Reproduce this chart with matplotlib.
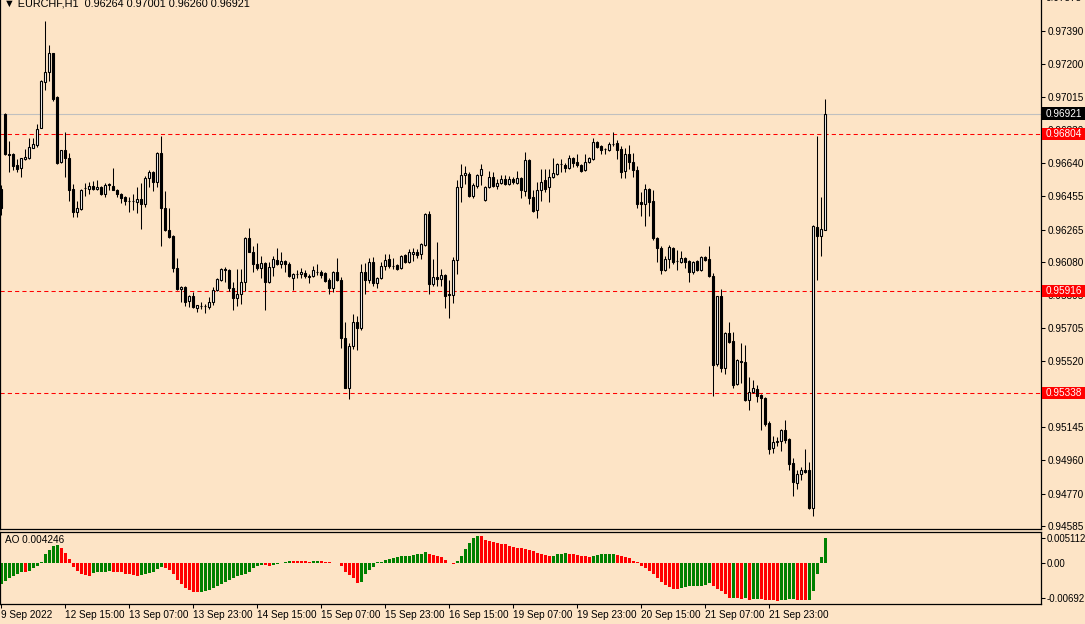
import numpy as np
import matplotlib
matplotlib.use('Agg')
import matplotlib.pyplot as plt
from matplotlib.patches import Rectangle
from matplotlib.transforms import blended_transform_factory

plt.rcParams['font.family'] = ['Liberation Sans', 'DejaVu Sans']
plt.rcParams['font.size'] = 7.2

# EURCHF H1 candles (index 0 = 9 Sep 23:00)
opens = [
    0.96495, 0.96918, 0.96692, 0.96692, 0.96630, 0.96613, 0.96664, 0.96670, 0.96726, 0.96743,
    0.96840, 0.97100, 0.97156, 0.97264, 0.97015, 0.96647, 0.96715, 0.96670, 0.96495, 0.96364,
    0.96381, 0.96498, 0.96495, 0.96511, 0.96495, 0.96506, 0.96466, 0.96517, 0.96511, 0.96489,
    0.96466, 0.96449, 0.96426, 0.96424, 0.96420, 0.96437, 0.96409, 0.96556, 0.96591, 0.96534,
    0.96698, 0.96386, 0.96262, 0.96228, 0.96047, 0.95928, 0.95940, 0.95860, 0.95889, 0.95820,
    0.95832, 0.95834, 0.95826, 0.95855, 0.95923, 0.95979, 0.96041, 0.96036, 0.95934, 0.95877,
    0.95900, 0.95968, 0.96217, 0.96138, 0.96070, 0.96047, 0.96075, 0.95968, 0.96053, 0.96092,
    0.96070, 0.96087, 0.96070, 0.95990, 0.96013, 0.96013, 0.96019, 0.96002, 0.96002, 0.96026,
    0.96024, 0.96019, 0.95979, 0.95934, 0.96024, 0.95979, 0.95651, 0.95368, 0.95606, 0.95741,
    0.95707, 0.96024, 0.95979, 0.96081, 0.95962, 0.95990, 0.96058, 0.96098, 0.96058, 0.96064,
    0.96047, 0.96120, 0.96081, 0.96126, 0.96138, 0.96126, 0.96177, 0.96353, 0.95957, 0.95996,
    0.95985, 0.96007, 0.95900, 0.95894, 0.96092, 0.96506, 0.96574, 0.96579, 0.96455, 0.96511,
    0.96574, 0.96432, 0.96506, 0.96562, 0.96511, 0.96528, 0.96551, 0.96523, 0.96551, 0.96528,
    0.96556, 0.96483, 0.96658, 0.96449, 0.96375, 0.96489, 0.96545, 0.96506, 0.96562, 0.96579,
    0.96636, 0.96630, 0.96613, 0.96670, 0.96647, 0.96630, 0.96602, 0.96647, 0.96664, 0.96760,
    0.96738, 0.96721, 0.96715, 0.96749, 0.96755, 0.96721, 0.96596, 0.96692, 0.96647, 0.96602,
    0.96420, 0.96409, 0.96495, 0.96426, 0.96217, 0.96160, 0.96036, 0.96098, 0.96160, 0.96087,
    0.96081, 0.96104, 0.96087, 0.96024, 0.96087, 0.96036, 0.96109, 0.96098, 0.96002, 0.95504,
    0.95889, 0.95481, 0.95679, 0.95634, 0.95391, 0.95521, 0.95515, 0.95300, 0.95345, 0.95362,
    0.95328, 0.95311, 0.95170, 0.95028, 0.95062, 0.95068, 0.95130, 0.95079, 0.94943, 0.94830,
    0.94881, 0.94904, 0.94904, 0.94689, 0.96279, 0.96228, 0.96264,
]
highs = [
    0.96517, 0.96924, 0.96766, 0.96698, 0.96664, 0.96670, 0.96721, 0.96783, 0.96783, 0.96862,
    0.97110, 0.97445, 0.97309, 0.97266, 0.97018, 0.96717, 0.96817, 0.96698, 0.96523, 0.96426,
    0.96494, 0.96528, 0.96534, 0.96540, 0.96545, 0.96510, 0.96528, 0.96528, 0.96613, 0.96492,
    0.96470, 0.96453, 0.96449, 0.96466, 0.96506, 0.96528, 0.96568, 0.96602, 0.96594, 0.96704,
    0.96794, 0.96483, 0.96386, 0.96232, 0.96104, 0.95945, 0.95945, 0.95893, 0.95911, 0.95840,
    0.95855, 0.95843, 0.95883, 0.95940, 0.95990, 0.96047, 0.96053, 0.96040, 0.95968, 0.96041,
    0.96041, 0.96220, 0.96273, 0.96172, 0.96189, 0.96115, 0.96080, 0.96081, 0.96115, 0.96160,
    0.96138, 0.96092, 0.96081, 0.96019, 0.96036, 0.96047, 0.96036, 0.96013, 0.96058, 0.96070,
    0.96036, 0.96024, 0.95990, 0.96030, 0.96104, 0.95996, 0.95741, 0.95623, 0.95787, 0.95775,
    0.96070, 0.96075, 0.96104, 0.96109, 0.95996, 0.96081, 0.96126, 0.96126, 0.96104, 0.96070,
    0.96120, 0.96126, 0.96155, 0.96160, 0.96155, 0.96189, 0.96358, 0.96370, 0.96098, 0.96194,
    0.96041, 0.96013, 0.95979, 0.96109, 0.96545, 0.96636, 0.96624, 0.96590, 0.96528, 0.96579,
    0.96636, 0.96511, 0.96596, 0.96590, 0.96551, 0.96573, 0.96573, 0.96568, 0.96562, 0.96596,
    0.96562, 0.96704, 0.96664, 0.96489, 0.96534, 0.96607, 0.96607, 0.96607, 0.96670, 0.96641,
    0.96664, 0.96641, 0.96687, 0.96675, 0.96692, 0.96636, 0.96692, 0.96675, 0.96783, 0.96766,
    0.96743, 0.96726, 0.96760, 0.96817, 0.96772, 0.96738, 0.96726, 0.96743, 0.96698, 0.96624,
    0.96477, 0.96523, 0.96500, 0.96489, 0.96220, 0.96172, 0.96115, 0.96177, 0.96166, 0.96149,
    0.96143, 0.96109, 0.96092, 0.96087, 0.96092, 0.96115, 0.96115, 0.96172, 0.96019, 0.95889,
    0.95928, 0.95685, 0.95741, 0.95685, 0.95532, 0.95623, 0.95611, 0.95430, 0.95413, 0.95385,
    0.95334, 0.95317, 0.95181, 0.95096, 0.95091, 0.95136, 0.95187, 0.95085, 0.94971, 0.94904,
    0.94920, 0.95023, 0.94949, 0.96290, 0.96794, 0.96449, 0.97001,
]
lows = [
    0.96347, 0.96687, 0.96591, 0.96602, 0.96591, 0.96562, 0.96660, 0.96664, 0.96724, 0.96732,
    0.96838, 0.97055, 0.97106, 0.96992, 0.96636, 0.96643, 0.96562, 0.96426, 0.96336, 0.96336,
    0.96376, 0.96455, 0.96466, 0.96490, 0.96489, 0.96462, 0.96449, 0.96489, 0.96486, 0.96449,
    0.96415, 0.96404, 0.96364, 0.96375, 0.96358, 0.96268, 0.96392, 0.96506, 0.96483, 0.96506,
    0.96172, 0.96258, 0.96217, 0.96024, 0.95924, 0.95855, 0.95832, 0.95826, 0.95820, 0.95798,
    0.95815, 0.95792, 0.95815, 0.95837, 0.95918, 0.95976, 0.95968, 0.95917, 0.95809, 0.95832,
    0.95843, 0.95917, 0.96135, 0.96024, 0.96036, 0.95990, 0.95809, 0.95962, 0.96002, 0.96064,
    0.96047, 0.96024, 0.95996, 0.95923, 0.95990, 0.95990, 0.95990, 0.95962, 0.95996, 0.96007,
    0.95990, 0.95968, 0.95900, 0.95911, 0.95974, 0.95594, 0.95366, 0.95306, 0.95589, 0.95583,
    0.95696, 0.95900, 0.95962, 0.95945, 0.95934, 0.95985, 0.96036, 0.96047, 0.96041, 0.96036,
    0.96041, 0.96075, 0.96075, 0.96087, 0.96104, 0.96098, 0.96172, 0.95900, 0.95945, 0.95945,
    0.95945, 0.95821, 0.95764, 0.95849, 0.96013, 0.96420, 0.96523, 0.96449, 0.96443, 0.96500,
    0.96517, 0.96426, 0.96500, 0.96506, 0.96494, 0.96523, 0.96517, 0.96517, 0.96523, 0.96523,
    0.96443, 0.96455, 0.96409, 0.96364, 0.96330, 0.96426, 0.96477, 0.96420, 0.96556, 0.96574,
    0.96591, 0.96591, 0.96607, 0.96619, 0.96619, 0.96591, 0.96596, 0.96641, 0.96658, 0.96726,
    0.96692, 0.96692, 0.96709, 0.96738, 0.96664, 0.96556, 0.96556, 0.96607, 0.96562, 0.96386,
    0.96341, 0.96285, 0.96341, 0.96206, 0.96081, 0.96013, 0.96030, 0.96047, 0.96070, 0.96036,
    0.96075, 0.96047, 0.95968, 0.96013, 0.96030, 0.96030, 0.96087, 0.95996, 0.95323, 0.95492,
    0.95458, 0.95447, 0.95622, 0.95368, 0.95385, 0.95396, 0.95295, 0.95243, 0.95340, 0.95289,
    0.95130, 0.95153, 0.94994, 0.95000, 0.95040, 0.95011, 0.95057, 0.94904, 0.94757, 0.94796,
    0.94847, 0.94887, 0.94685, 0.94643, 0.95979, 0.96115, 0.96260,
]
closes = [
    0.96386, 0.96692, 0.96688, 0.96624, 0.96607, 0.96670, 0.96675, 0.96732, 0.96749, 0.96834,
    0.97106, 0.97156, 0.97264, 0.97004, 0.96641, 0.96715, 0.96670, 0.96489, 0.96364, 0.96386,
    0.96489, 0.96500, 0.96511, 0.96495, 0.96506, 0.96466, 0.96517, 0.96520, 0.96489, 0.96466,
    0.96443, 0.96426, 0.96424, 0.96426, 0.96437, 0.96409, 0.96556, 0.96591, 0.96534, 0.96698,
    0.96386, 0.96262, 0.96222, 0.96047, 0.95928, 0.95940, 0.95855, 0.95889, 0.95826, 0.95837,
    0.95834, 0.95832, 0.95855, 0.95923, 0.95985, 0.96041, 0.96036, 0.95934, 0.95877, 0.95900,
    0.95968, 0.96217, 0.96138, 0.96070, 0.96047, 0.96075, 0.95968, 0.96053, 0.96098, 0.96070,
    0.96087, 0.96070, 0.96002, 0.96013, 0.96015, 0.96024, 0.96002, 0.95996, 0.96036, 0.96022,
    0.96007, 0.95974, 0.95934, 0.96024, 0.95979, 0.95651, 0.95368, 0.95606, 0.95741, 0.95707,
    0.96024, 0.95979, 0.96081, 0.95962, 0.95990, 0.96058, 0.96092, 0.96058, 0.96060, 0.96041,
    0.96115, 0.96081, 0.96138, 0.96138, 0.96121, 0.96183, 0.96353, 0.95957, 0.95996, 0.95985,
    0.96007, 0.95889, 0.95894, 0.96092, 0.96506, 0.96574, 0.96585, 0.96455, 0.96517, 0.96574,
    0.96607, 0.96506, 0.96562, 0.96511, 0.96528, 0.96551, 0.96523, 0.96551, 0.96534, 0.96556,
    0.96489, 0.96658, 0.96443, 0.96370, 0.96489, 0.96534, 0.96495, 0.96562, 0.96585, 0.96636,
    0.96638, 0.96613, 0.96670, 0.96641, 0.96630, 0.96596, 0.96647, 0.96670, 0.96760, 0.96732,
    0.96715, 0.96719, 0.96749, 0.96751, 0.96715, 0.96591, 0.96692, 0.96647, 0.96602, 0.96409,
    0.96409, 0.96495, 0.96420, 0.96217, 0.96160, 0.96036, 0.96098, 0.96166, 0.96081, 0.96085,
    0.96104, 0.96081, 0.96024, 0.96081, 0.96036, 0.96109, 0.96092, 0.96002, 0.95498, 0.95889,
    0.95481, 0.95679, 0.95628, 0.95385, 0.95526, 0.95515, 0.95300, 0.95345, 0.95368, 0.95323,
    0.95311, 0.95164, 0.95023, 0.95062, 0.95068, 0.95130, 0.95074, 0.94937, 0.94836, 0.94881,
    0.94904, 0.94892, 0.94689, 0.96285, 0.96228, 0.96268, 0.96921,
]

# Awesome Oscillator values
ao = [
    -0.00357, -0.00300, -0.00244, -0.00210, -0.00176, -0.00142, -0.00153, -0.00130, -0.00085, -0.00051,
    0.00028, 0.00164, 0.00232, 0.00300, 0.00312, 0.00255, 0.00176, 0.00074, -0.00062, -0.00130,
    -0.00176, -0.00198, -0.00221, -0.00164, -0.00153, -0.00142, -0.00140, -0.00138, -0.00150, -0.00152,
    -0.00155, -0.00176, -0.00187, -0.00198, -0.00210, -0.00200, -0.00187, -0.00164, -0.00142, -0.00096,
    -0.00062, -0.00085, -0.00119, -0.00187, -0.00278, -0.00346, -0.00414, -0.00459, -0.00482, -0.00493,
    -0.00485, -0.00471, -0.00448, -0.00425, -0.00391, -0.00357, -0.00323, -0.00278, -0.00244, -0.00221,
    -0.00198, -0.00176, -0.00142, -0.00085, -0.00051, -0.00028, -0.00034, -0.00051, -0.00028, -0.00017,
    0.00006, 0.00028, 0.00040, 0.00038, 0.00036, 0.00034, 0.00032, 0.00028, 0.00036, 0.00040,
    0.00038, 0.00030, 0.00018, 0.00010, 0.00004, -0.00040, -0.00142, -0.00198, -0.00244, -0.00330,
    -0.00312, -0.00187, -0.00108, -0.00062, 0.00017, 0.00028, 0.00062, 0.00074, 0.00085, 0.00108,
    0.00119, 0.00130, 0.00132, 0.00142, 0.00153, 0.00164, 0.00187, 0.00153, 0.00142, 0.00130,
    0.00108, 0.00051, 0.00006, -0.00006, 0.00040, 0.00119, 0.00244, 0.00346, 0.00425, 0.00470,
    0.00459, 0.00403, 0.00380, 0.00357, 0.00346, 0.00335, 0.00323, 0.00300, 0.00278, 0.00266,
    0.00255, 0.00244, 0.00221, 0.00210, 0.00176, 0.00164, 0.00142, 0.00119, 0.00130, 0.00164,
    0.00166, 0.00168, 0.00164, 0.00153, 0.00142, 0.00130, 0.00119, 0.00108, 0.00119, 0.00142,
    0.00153, 0.00155, 0.00164, 0.00166, 0.00142, 0.00130, 0.00108, 0.00085, 0.00040, 0.00017,
    -0.00040, -0.00074, -0.00130, -0.00187, -0.00244, -0.00312, -0.00369, -0.00403, -0.00437, -0.00440,
    -0.00425, -0.00403, -0.00391, -0.00390, -0.00389, -0.00380, -0.00369, -0.00335, -0.00380, -0.00437,
    -0.00471, -0.00516, -0.00595, -0.00584, -0.00595, -0.00607, -0.00595, -0.00618, -0.00607, -0.00605,
    -0.00610, -0.00618, -0.00629, -0.00632, -0.00641, -0.00618, -0.00616, -0.00607, -0.00605, -0.00618,
    -0.00620, -0.00629, -0.00618, -0.00471, -0.00176, 0.00108, 0.004246,
]

time_labels = ['9 Sep 2022', '12 Sep 15:00', '13 Sep 07:00', '13 Sep 23:00', '14 Sep 15:00',
               '15 Sep 07:00', '15 Sep 23:00', '16 Sep 15:00', '19 Sep 07:00', '19 Sep 23:00',
               '20 Sep 15:00', '21 Sep 07:00', '21 Sep 23:00']
price_ticks = [0.97390, 0.97200, 0.97015, 0.96830, 0.96640, 0.96455, 0.96265, 0.96080,
               0.95895, 0.95705, 0.95520, 0.95335, 0.95145, 0.94960, 0.94770, 0.94585]
bid = 0.96921
levels = [0.96804, 0.95916, 0.95338]

bg = '#FDE4C6'
W, H = 1085, 624


def box(x0, y0, x1, y1):
    # pixel box -> figure fraction
    return [x0 / W, 1 - y1 / H, (x1 - x0) / W, (y1 - y0) / H]


opens = np.array(opens)
closes = np.array(closes)
ao = np.array(ao)
x = np.arange(len(opens))

fig = plt.figure(figsize=(W / 100, H / 100), dpi=100, facecolor=bg)
ax = fig.add_axes(box(0, 0, 1041, 529), facecolor=bg)
ax2 = fig.add_axes(box(0, 532, 1041, 604), facecolor=bg)

# candles
ax.vlines(x, lows, highs, color='black', linewidth=0.75, zorder=3)
body_col = np.where(closes >= opens, 'white', 'black')
ax.bar(x, closes - opens, bottom=opens, width=0.58, color=body_col,
       edgecolor='black', linewidth=0.8, zorder=4)

ax.axhline(bid, color='#C0C0C0', linewidth=0.8, zorder=2)
for lv in levels:
    ax.axhline(lv, color='red', linewidth=0.75, linestyle=(0, (4, 3)), zorder=2)

ax.set_xlim(-0.25, 260)
ax.set_ylim(0.94570, 0.97564)
ax.set_xticks([])
ax.yaxis.tick_right()
ax.set_yticks(price_ticks)
ax.set_yticklabels([f'{p:.5f}' for p in price_ticks])
ax.tick_params(axis='y', direction='out', length=3, width=0.75, pad=2, labelsize=7.2)
ax.spines['top'].set_visible(False)
for s in ['left', 'right', 'bottom']:
    ax.spines[s].set_linewidth(0.9)

trans = blended_transform_factory(ax.transAxes, ax.transData)
ax.text(1.0 + 5 / 1041, 0.97575, '0.97575', transform=trans, va='center', ha='left',
        fontsize=7.2, clip_on=False)
tags = [(bid, 'black')] + [(lv, 'red') for lv in levels]
for p, c in tags:
    ax.add_patch(Rectangle((1.0 + 1 / 1041, p - 0.00035), 43 / 1041, 0.0007,
                           transform=trans, facecolor=c, edgecolor='none',
                           clip_on=False, zorder=6))
    ax.text(1.0 + 5 / 1041, p, f'{p:.5f}', transform=trans, color='white',
            va='center', ha='left', fontsize=7.2, clip_on=False, zorder=7)

# AO histogram
ao_col = ['#008000'] + ['#008000' if ao[i] > ao[i - 1] else '#FF0000' for i in range(1, len(ao))]
ax2.bar(x, ao, width=0.75, color=ao_col, linewidth=0)
ax2.set_xlim(-0.25, 260)
ax2.set_ylim(-0.00692, 0.00532)
ax2.yaxis.tick_right()
ax2.set_yticks([0.0043, 0.0, -0.0059])
ax2.set_yticklabels(['0.005112', '0.00', '-0.00692'])
ax2.tick_params(axis='y', direction='out', length=3, width=0.75, pad=1, labelsize=6.9)
ax2.set_xticks(np.arange(0, 16 * len(time_labels), 16))
ax2.set_xticklabels(time_labels)
ax2.tick_params(axis='x', direction='out', length=3, width=0.75, pad=1.5, labelsize=7.2)
for lab in ax2.get_xticklabels():
    lab.set_horizontalalignment('left')
for s in ax2.spines.values():
    s.set_linewidth(0.9)

fig.text(5 / W, 1 - 540 / H, 'AO 0.004246', va='center', ha='left', fontsize=7.2)
fig.text(4 / W, 1 - 6 / H, '\u25bc EURCHF,H1  0.96264 0.97001 0.96260 0.96921',
         va='baseline', ha='left', fontsize=7.8)

fig.savefig('out.png', dpi=100, facecolor=bg)
